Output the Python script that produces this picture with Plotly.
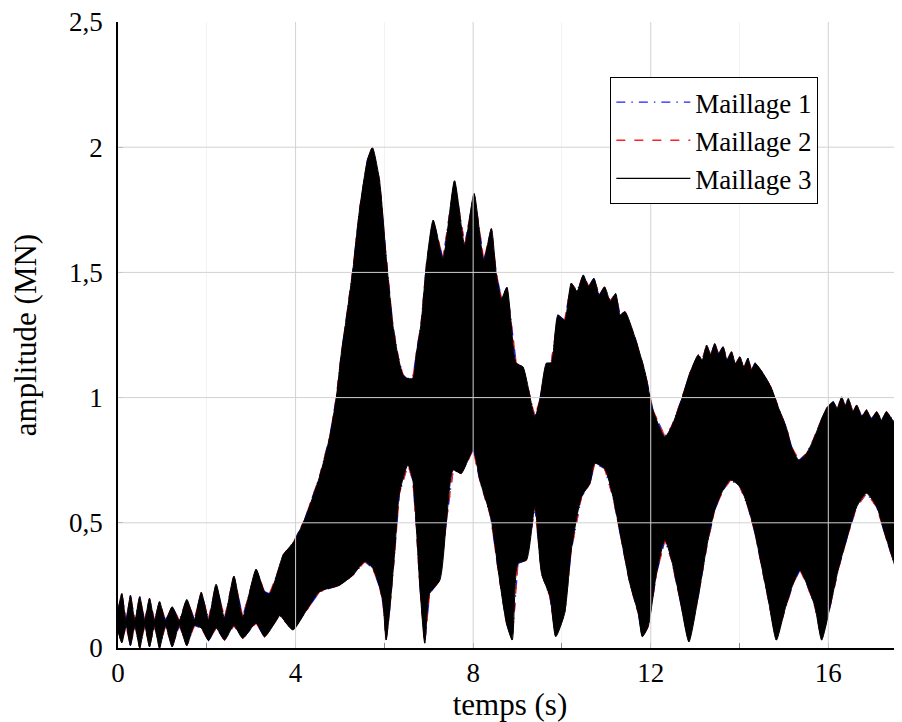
import plotly.graph_objects as go

# ---- data ----
# upper envelope of the (very fast) oscillating signal
t_upper = [0.00, 0.086, 0.18, 0.28, 0.38, 0.49, 0.60, 0.71, 0.82, 0.935, 1.07, 1.22, 1.38, 1.55, 1.72,
           1.875, 2.04, 2.21, 2.40, 2.61, 2.81, 3.11, 3.30, 3.41, 3.565, 3.72, 3.96,
           4.20, 4.54, 4.77, 4.92, 5.03, 5.13, 5.29, 5.44, 5.62, 5.73, 5.89, 6.04, 6.19, 6.31, 6.42,
           6.50, 6.64, 6.72, 6.83, 6.95, 7.10, 7.32, 7.58, 7.81, 8.02, 8.24, 8.41, 8.52, 8.64, 8.76,
           8.97, 9.12, 9.39, 9.50, 9.65, 9.76, 9.91, 10.06, 10.21, 10.34, 10.48, 10.60, 10.72, 10.84,
           10.96, 11.09, 11.21, 11.31, 11.42, 11.64, 11.87, 12.05, 12.32, 12.47, 12.69, 12.88, 13.07,
           13.16, 13.26, 13.35, 13.44, 13.53, 13.63, 13.72, 13.82, 13.91, 14.01, 14.10, 14.19, 14.27,
           14.35, 14.53, 14.72, 14.87, 15.06, 15.17, 15.34, 15.51, 15.66, 15.81, 15.96, 16.11, 16.20,
           16.30, 16.38, 16.45, 16.55, 16.64, 16.75, 16.86, 16.97, 17.09, 17.20, 17.31, 17.48, 17.66]
v_upper = [0.150, 0.218, 0.110, 0.210, 0.110, 0.205, 0.110, 0.198, 0.110, 0.185, 0.110, 0.165, 0.110, 0.194, 0.115,
           0.222, 0.115, 0.255, 0.120, 0.287, 0.125, 0.314, 0.225, 0.216, 0.285, 0.371, 0.424,
           0.511, 0.684, 0.844, 1.003, 1.176, 1.300, 1.509, 1.749, 1.950, 1.999, 1.868, 1.562, 1.290, 1.163, 1.090,
           1.077, 1.077, 1.176, 1.300, 1.536, 1.709, 1.556, 1.866, 1.609, 1.815, 1.549, 1.675, 1.496, 1.396, 1.440,
           1.137, 1.123, 0.923, 0.990, 1.137, 1.140, 1.329, 1.309, 1.456, 1.425, 1.489, 1.445, 1.476, 1.410,
           1.442, 1.385, 1.416, 1.330, 1.343, 1.243, 1.103, 0.950, 0.844, 0.884, 0.990, 1.097, 1.170,
           1.150, 1.210, 1.170, 1.216, 1.175, 1.203, 1.150, 1.183, 1.135, 1.163, 1.120, 1.157, 1.110,
           1.137, 1.097, 1.037, 0.963, 0.877, 0.804, 0.750, 0.777, 0.830, 0.897, 0.957, 0.983, 0.955,
           1.003, 0.965, 0.997, 0.945, 0.970, 0.925, 0.950, 0.915, 0.943, 0.910, 0.943, 0.905, 0.917]

# lower envelope of the oscillating signal
t_lower = [0.00, 0.086, 0.18, 0.28, 0.38, 0.49, 0.60, 0.71, 0.82, 0.935, 1.07, 1.22, 1.38, 1.55, 1.72,
           1.875, 2.04, 2.21, 2.40, 2.61, 2.81, 3.11, 3.30, 3.565, 3.64, 3.94,
           4.20, 4.54, 4.99, 5.29, 5.56, 5.74, 5.89, 5.97, 6.04, 6.12, 6.23, 6.34, 6.53, 6.64, 6.72,
           6.80, 6.91, 7.02, 7.25, 7.40, 7.55, 7.73, 8.00, 8.15, 8.40, 8.58, 8.75, 8.88, 9.01, 9.20,
           9.39, 9.54, 9.73, 9.86, 10.06, 10.21, 10.44, 10.63, 10.74, 10.96, 11.15, 11.34, 11.53,
           11.72, 11.81, 11.94, 12.13, 12.32, 12.47, 12.66, 12.86, 13.07, 13.26, 13.44, 13.63, 13.80,
           14.01, 14.19, 14.35, 14.50, 14.65, 14.83, 15.02, 15.21, 15.36, 15.51, 15.70, 15.85, 16.04,
           16.22, 16.45, 16.64, 16.86, 17.09, 17.27, 17.46, 17.66]
v_lower = [0.070, 0.020, 0.090, 0.010, 0.090, 0.000, 0.090, 0.005, 0.090, 0.000, 0.090, 0.005, 0.090, 0.010, 0.090,
           0.080, 0.030, 0.080, 0.032, 0.090, 0.039, 0.100, 0.045, 0.110, 0.130, 0.072,
           0.138, 0.225, 0.251, 0.291, 0.345, 0.318, 0.245, 0.178, 0.032, 0.152, 0.378, 0.618, 0.731, 0.671, 0.484,
           0.245, 0.019, 0.218, 0.271, 0.511, 0.711, 0.697, 0.790, 0.671, 0.520, 0.290, 0.099, 0.032, 0.338, 0.351,
           0.564, 0.298, 0.205, 0.045, 0.138, 0.391, 0.604, 0.657, 0.737, 0.717, 0.604, 0.431, 0.258,
           0.138, 0.045, 0.085, 0.298, 0.431, 0.351, 0.192, 0.025, 0.205, 0.404, 0.551, 0.631, 0.671,
           0.644, 0.564, 0.458, 0.325, 0.192, 0.032, 0.152, 0.258, 0.311, 0.258, 0.165, 0.032, 0.165,
           0.311, 0.458, 0.564, 0.618, 0.564, 0.458, 0.351, 0.240]

series_names = ["Maillage 1", "Maillage 2", "Maillage 3"]
series_colors = ["#2020ff", "#ff2020", "#000000"]
series_dashes = ["9px,6px,1.5px,6px", "9px,9px", "solid"]

x_tick_vals = [0, 4, 8, 12, 16]
x_tick_text = ["0", "4", "8", "12", "16"]
x_minor_vals = [2, 6, 10, 14]
y_tick_vals = [0, 0.5, 1, 1.5, 2, 2.5]
y_tick_text = ["0", "0,5", "1", "1,5", "2", "2,5"]

X_MAX = 17.66
FONT = "Liberation Serif"

fig = go.Figure()

# Maillage 1 and 2: envelopes drawn as lines (they coincide with Maillage 3)
for name, col, dash in zip(series_names[:2], series_colors[:2], series_dashes[:2]):
    fig.add_trace(go.Scatter(
        x=t_upper + [None] + t_lower, y=v_upper + [None] + v_lower,
        mode="lines", name=name, connectgaps=False,
        line=dict(color=col, width=1.3, dash=dash), hoverinfo="skip"))

# Maillage 3: filled band between envelopes
fig.add_trace(go.Scatter(
    x=t_upper + t_lower[::-1], y=v_upper + v_lower[::-1],
    mode="lines", fill="toself", fillcolor="black",
    line=dict(color="black", width=1, shape="spline", smoothing=0.6),
    showlegend=False, name=series_names[2], hoverinfo="skip"))
# legend entry for Maillage 3
fig.add_trace(go.Scatter(x=[None], y=[None], mode="lines", name=series_names[2],
                         line=dict(color=series_colors[2], width=1.2)))

# grid lines drawn above the data (as in the reference)
GRID = "#d2d2d2"
shapes = []
for xv in x_tick_vals[1:]:
    shapes.append(dict(type="line", xref="x", yref="y", x0=xv, x1=xv, y0=0, y1=2.5,
                       line=dict(color=GRID, width=1), layer="above"))
for yv in y_tick_vals[1:-1]:
    shapes.append(dict(type="line", xref="x", yref="y", x0=0, x1=X_MAX, y0=yv, y1=yv,
                       line=dict(color=GRID, width=1), layer="above"))

# the page body adds an 8 px offset; the figure is sized so the plot lands where the reference has it
fig.update_layout(
    width=894, height=714,
    margin=dict(l=110, r=0, t=14, b=74, autoexpand=False),
    paper_bgcolor="white", plot_bgcolor="white",
    font=dict(family=FONT, size=27, color="black"),
    shapes=shapes,
    legend=dict(x=0.628, y=0.912, xanchor="left", yanchor="top",
                bgcolor="white", bordercolor="black", borderwidth=1,
                font=dict(family=FONT, size=27), itemwidth=74, tracegroupgap=0),
    xaxis=dict(range=[0, X_MAX], tickmode="array", tickvals=x_tick_vals, ticktext=x_tick_text,
               ticks="inside", ticklen=5, tickcolor="#888888", showgrid=False, zeroline=False,
               showline=True, linecolor="black", linewidth=1.6, layer="above traces",
               ticklabelstandoff=0, automargin=False, ticklabeloverflow="allow",
               tickfont=dict(family=FONT, size=27),
               minor=dict(tickvals=x_minor_vals, ticks="inside", ticklen=5, tickcolor="#888888",
                          showgrid=True, gridcolor="#f2f2f2", gridwidth=1),
               title=dict(text="temps (s)", standoff=0, font=dict(family=FONT, size=31))),
    yaxis=dict(range=[0, 2.5], tickmode="array", tickvals=y_tick_vals, ticktext=y_tick_text,
               ticks="inside", ticklen=5, tickcolor="#888888", showgrid=False, zeroline=False,
               showline=True, linecolor="black", linewidth=1.6, layer="above traces",
               ticklabelstandoff=8, automargin=False, ticklabeloverflow="allow",
               tickfont=dict(family=FONT, size=27),
               title=dict(text="amplitude (MN)", standoff=25, font=dict(family=FONT, size=31))),
)

fig.write_html("out.html")
